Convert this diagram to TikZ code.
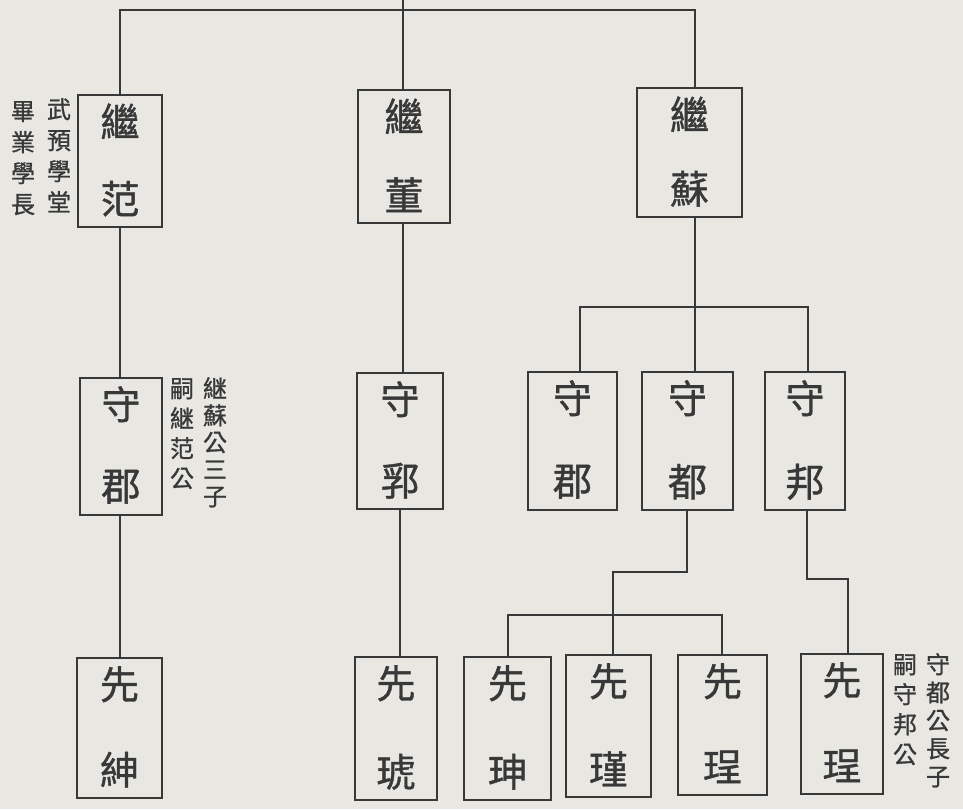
\documentclass[tikz,border=0pt]{standalone}
\usepackage{fontspec}
\newfontfamily\cjk{Noto Sans CJK TC}[FakeBold=1]
\usetikzlibrary{fit,calc}
\definecolor{paper}{HTML}{E8E7E1}
\definecolor{ink}{HTML}{383838}
\tikzset{
  box/.style={draw=ink, line width=1.5pt, inner sep=0pt, rectangle},
  char/.style={font=\cjk\fontsize{39}{39}\selectfont, text=ink, inner sep=0pt},
  anno/.style={font=\cjk\fontsize{24}{#1}\selectfont, text=ink, align=center, inner sep=0pt, anchor=north},
  link/.style={draw=ink, line width=1.5pt},
}
\newcommand\fambox[7]{%
  \node[box, fit={(#2,#3) (#4,#5)}] (#1) {};
  \node[char] (#1-a) at ($(#1.north)+(0,27)$) {#6};
  \node[char] (#1-b) at ($(#1.south)+(0,-29)$) {#7};
}
\begin{document}
\begin{tikzpicture}[x=1pt,y=-1pt]
\fill[paper] (0,0) rectangle (963,809);
\useasboundingbox (0,0) rectangle (963,809);
% generation 1
\fambox{A}{78}{95}{162}{227}{繼}{范}
\fambox{B}{358}{90}{450}{223}{繼}{董}
\fambox{C}{637}{88}{742}{217}{繼}{蘇}
% generation 2
\fambox{D}{80}{378}{162}{515}{守}{郡}
\fambox{E}{357}{373}{443}{509}{守}{郛}
\fambox{F}{528}{372}{617}{510}{守}{郡}
\fambox{G}{642}{372}{733}{510}{守}{都}
\fambox{H}{765}{372}{845}{510}{守}{邦}
% generation 3
\fambox{I}{77}{658}{162}{798}{先}{紳}
\fambox{J}{355}{657}{437}{800}{先}{琥}
\fambox{K}{464}{657}{551}{800}{先}{珅}
\fambox{L}{566}{655}{651}{797}{先}{瑾}
\fambox{M}{678}{655}{767}{795}{先}{珵}
\fambox{N}{801}{654}{883}{794}{先}{珵}
% annotations
\node[anno=31] (annA1) at (59,98) {武\\預\\學\\堂};
\node[anno=31] (annA2) at (23,101) {畢\\業\\學\\長};
\node[anno=27] (annD1) at (215,377) {継\\蘇\\公\\三\\子};
\node[anno=30] (annD2) at (182,378) {嗣\\継\\范\\公};
\node[anno=28] (annN1) at (938,653) {守\\都\\公\\長\\子};
\node[anno=30] (annN2) at (905,654) {嗣\\守\\邦\\公};
% connectors
\coordinate (top) at (403,0);
\coordinate (barL) at (120,10);
\coordinate (barR) at (695,10);
\draw[link] (top) -- (top |- B.north);
\draw[link] (barL |- A.north) -- (barL) -- (barR) -- (barR |- C.north);
\draw[link] (barL |- A.south) -- (barL |- D.north);
\draw[link] (barL |- D.south) -- (barL |- I.north);
\coordinate (mid1) at (403,300);
\coordinate (mid2) at (400,600);
\draw[link] (mid1 |- B.south) -- (mid1 |- E.north);
\draw[link] (mid2 |- E.south) -- (mid2 |- J.north);
\coordinate (cbus) at (695,307);
\coordinate (busF) at (580,307);
\coordinate (busH) at (808,307);
\draw[link] (cbus |- C.south) -- (cbus |- G.north);
\draw[link] (busF |- F.north) -- (busF) -- (busH) -- (busH |- H.north);
\coordinate (g1) at (687,572);
\coordinate (g2) at (613,572);
\draw[link] (g1 |- G.south) -- (g1) -- (g2) -- (g2 |- L.north);
\coordinate (kb) at (508,615);
\coordinate (mb) at (722,615);
\draw[link] (kb |- K.north) -- (kb) -- (mb) -- (mb |- M.north);
\coordinate (h1) at (807,579);
\coordinate (h2) at (848,579);
\draw[link] (h1 |- H.south) -- (h1) -- (h2) -- (h2 |- N.north);
\end{tikzpicture}
\end{document}
